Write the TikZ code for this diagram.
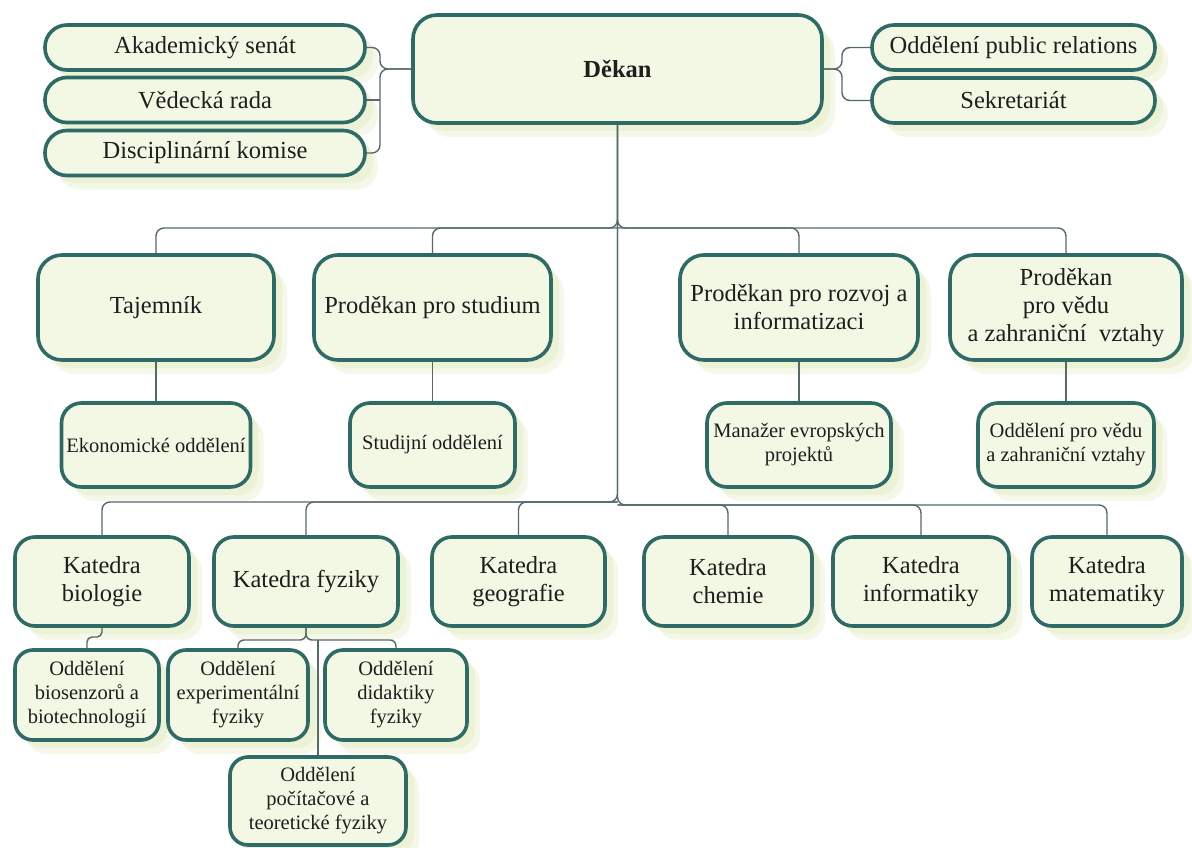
\documentclass[tikz,border=0pt]{standalone}
\usepackage{fontspec}
\setmainfont{Liberation Serif}
\usetikzlibrary{shadows}
\definecolor{bordc}{HTML}{2E6A66}
\definecolor{fillc}{HTML}{F3F8E4}
\definecolor{shadc}{HTML}{EAF1D0}
\definecolor{linec}{HTML}{56696A}
\definecolor{txtc}{HTML}{1E1E1E}
\begin{document}
\begin{tikzpicture}[x=1pt,y=-1pt,
  box/.style={draw=bordc, line width=3.6pt, fill=fillc, rounded corners=#1,
    text=txtc, align=center, inner sep=1pt,
    drop shadow={shadow xshift=13pt, shadow yshift=-14pt, fill=shadc, opacity=0.45},
    drop shadow={shadow xshift=8pt, shadow yshift=-8pt, fill=shadc, opacity=0.8}},
  box/.default=20pt,
  bigf/.style={font=\fontsize{24.5}{28}\selectfont},
  smallf/.style={font=\fontsize{20.5}{24}\selectfont},
  conn/.style={draw=linec, line width=1.4pt, rounded corners=#1},
  conn/.default=8pt]
\fill[white] (0,0) rectangle (1192,848);
\useasboundingbox (0,0) rectangle (1192,848);

% top row
\node[box=22pt, bigf, minimum width=320, minimum height=45] (ak) at (205,47.5) {Akademický senát};
\node[box=22pt, bigf, minimum width=320, minimum height=45] (ved) at (205,100) {Vědecká rada};
\node[box=22pt, bigf, minimum width=320, minimum height=45] (dis) at (205,153) {Disciplinární komise};
\node[box=24pt, bigf, minimum width=409, minimum height=108] (dek) at (617.5,69) {\textbf{Děkan}};
\node[box=22pt, bigf, minimum width=283, minimum height=45] (pr) at (1013.5,47.5) {Oddělení public relations};
\node[box=22pt, bigf, minimum width=283, minimum height=45] (sek) at (1013.5,100.5) {Sekretariát};

% second row
\node[box=24pt, bigf, minimum width=236, minimum height=105] (taj) at (156,307.5) {Tajemník};
\node[box=24pt, bigf, minimum width=237, minimum height=105] (pst) at (432.5,307.5) {Proděkan pro studium};
\node[box=24pt, bigf, minimum width=238, minimum height=105] (prz) at (799,307.5) {Proděkan pro rozvoj a\\informatizaci};
\node[box=24pt, bigf, minimum width=232, minimum height=105] (pvz) at (1066,307.5) {Proděkan\\pro vědu\\a zahraniční\ \ vztahy};

% third row
\node[box=20pt, smallf, minimum width=189, minimum height=84] (eko) at (156,445) {Ekonomické oddělení};
\node[box=20pt, smallf, minimum width=165, minimum height=84] (stu) at (432.5,445) {Studijní oddělení};
\node[box=20pt, smallf, minimum width=184, minimum height=84] (man) at (799,445) {Manažer evropských\\projektů};
\node[box=20pt, smallf, minimum width=176, minimum height=84] (ovz) at (1066,445) {Oddělení pro vědu\\a zahraniční vztahy};

% departments
\node[box=20pt, bigf, minimum width=174, minimum height=89] (bio) at (102,581.5) {Katedra\\biologie};
\node[box=20pt, bigf, minimum width=184, minimum height=89] (fyz) at (306,581.5) {Katedra fyziky};
\node[box=20pt, bigf, minimum width=173, minimum height=89] (geo) at (518.5,581.5) {Katedra\\geografie};
\node[box=20pt, bigf, minimum width=168, minimum height=89] (che) at (728,581.5) {Katedra\\chemie};
\node[box=20pt, bigf, minimum width=176, minimum height=89] (inf) at (921,581.5) {Katedra\\informatiky};
\node[box=20pt, bigf, minimum width=150, minimum height=89] (mat) at (1107,581.5) {Katedra\\matematiky};

% sub-departments
\node[box=18pt, smallf, minimum width=144, minimum height=90] (bios) at (87,695) {Oddělení\\biosenzorů a\\biotechnologií};
\node[box=18pt, smallf, minimum width=140, minimum height=90] (exp) at (238,695) {Oddělení\\experimentální\\fyziky};
\node[box=18pt, smallf, minimum width=142, minimum height=90] (did) at (396,695) {Oddělení\\didaktiky\\fyziky};
\node[box=18pt, smallf, minimum width=176, minimum height=88] (poc) at (318,801) {Oddělení\\počítačové a\\teoretické fyziky};

% connectors: top brackets
\draw[conn] (ak.east) -- (380,47.5) -- (380,69) -- (dek.west);
\draw[conn] (dis.east) -- (380,153) -- (380,69) -- (dek.west);
\draw[conn] (ved.east) -- (380,100);
\draw[conn] (dek.east) -- (842,69) -- (842,47.5) -- (pr.west);
\draw[conn] (dek.east) -- (842,69) -- (842,100.5) -- (sek.west);

% trunk
\draw[conn] (dek.south) -- (617.5,495);
\draw[conn] (taj.north) -- (156,228) -- (617.5,228) -- (dek.south);
\draw[conn] (pvz.north) -- (1066,228) -- (617.5,228) -- (dek.south);
\draw[conn] (pst.north) -- (432.5,228) -- (617.5,228);
\draw[conn] (prz.north) -- (799,228) -- (617.5,228);

% second level
\draw[conn] (taj.south) -- (eko.north);
\draw[conn] (pst.south) -- (stu.north);
\draw[conn] (prz.south) -- (man.north);
\draw[conn] (pvz.south) -- (ovz.north);

% departments bar
\draw[conn] (bio.north) -- (102,502) -- (617.5,502) -- (dek.south);
\draw[conn] (mat.north) -- (1107,505) -- (617.5,505) -- (dek.south);
\draw[conn] (fyz.north) -- (306,502) -- (617.5,502);
\draw[conn] (geo.north) -- (518.5,502) -- (617.5,502);
\draw[conn] (che.north) -- (728,505) -- (617.5,505);
\draw[conn] (inf.north) -- (921,505) -- (617.5,505);

% sub-departments
\draw[conn=5pt] (bio.south) -- (102,637) -- (87,637) -- (bios.north);
\draw[conn=6pt] (fyz.south) -- (306,640) -- (238,640) -- (exp.north);
\draw[conn=6pt] (fyz.south) -- (306,640) -- (396,640) -- (did.north);
\draw[conn] (poc.north) -- (318,640);
\end{tikzpicture}
\end{document}
